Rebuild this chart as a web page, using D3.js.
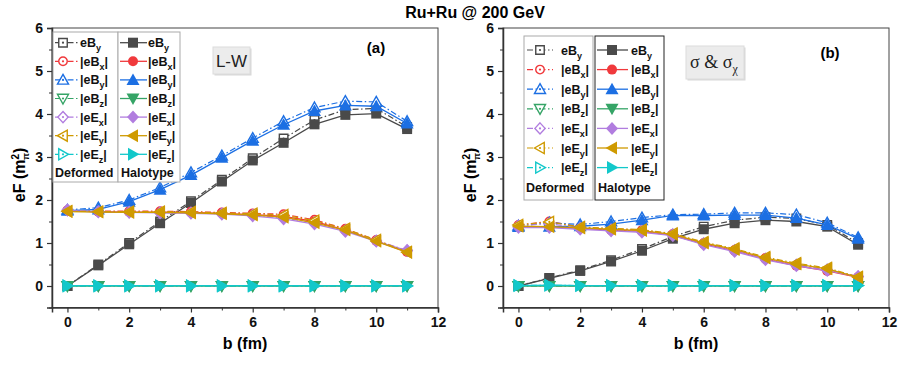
<!DOCTYPE html>
<html lang="en">
<head>
  <meta charset="UTF-8">
  <title>Ru+Ru @ 200 GeV</title>
  <script src="https://d3js.org/d3.v7.min.js"></script>
  <style>
    body { margin: 0; background: #fff; }
    svg { display: block; font-family: "Liberation Sans", Arial, sans-serif; }
    .tick text { font-weight: bold; font-size: 14px; fill: #111; }
    .legend text { font-weight: bold; font-size: 12.5px; fill: #111; }
  </style>
</head>
<body>
  <div id="chart"></div>
  <script>
    const width = 899, height = 365;

    // impact parameter b (fm)
    const bVals = [0, 1, 2, 3, 4, 5, 6, 7, 8, 9, 10, 11];

    // panel (a) : L-W
    const lwDefEBy   = [0, 0.5, 1.0, 1.5, 1.97, 2.47, 2.97, 3.43, 3.86, 4.1, 4.13, 3.7];
    const lwDefAbsBx = [1.76, 1.74, 1.74, 1.74, 1.73, 1.71, 1.69, 1.67, 1.54, 1.33, 1.07, 0.8];
    const lwDefAbsBy = [1.77, 1.82, 2.0, 2.29, 2.64, 3.03, 3.44, 3.83, 4.15, 4.3, 4.28, 3.83];
    const lwDefAbsBz = [0, 0, 0, 0, 0, 0, 0, 0, 0, 0, 0, 0];
    const lwDefAbsEx = [1.77, 1.73, 1.72, 1.71, 1.7, 1.68, 1.65, 1.58, 1.47, 1.29, 1.05, 0.83];
    const lwDefAbsEy = [1.74, 1.73, 1.73, 1.73, 1.72, 1.7, 1.68, 1.65, 1.52, 1.33, 1.07, 0.79];
    const lwDefAbsEz = [0, 0, 0, 0, 0, 0, 0, 0, 0, 0, 0, 0];
    const lwHalEBy   = [0, 0.48, 0.97, 1.46, 1.93, 2.43, 2.92, 3.33, 3.76, 3.98, 4.01, 3.65];
    const lwHalAbsBx = [1.75, 1.73, 1.72, 1.72, 1.71, 1.69, 1.66, 1.62, 1.5, 1.3, 1.05, 0.79];
    const lwHalAbsBy = [1.75, 1.78, 1.96, 2.24, 2.58, 2.98, 3.38, 3.75, 4.07, 4.2, 4.18, 3.78];
    const lwHalAbsBz = [0, 0, 0, 0, 0, 0, 0, 0, 0, 0, 0, 0];
    const lwHalAbsEx = [1.76, 1.72, 1.71, 1.7, 1.69, 1.67, 1.63, 1.56, 1.44, 1.27, 1.04, 0.82];
    const lwHalAbsEy = [1.73, 1.72, 1.71, 1.71, 1.7, 1.68, 1.65, 1.6, 1.47, 1.3, 1.04, 0.78];
    const lwHalAbsEz = [0.01, 0.01, 0.01, 0.01, 0.01, 0.01, 0.01, 0.01, 0.01, 0.01, 0.01, 0.01];

    // panel (b) : sigma & sigma_chi
    const sgDefEBy   = [0, 0.19, 0.37, 0.6, 0.86, 1.15, 1.38, 1.53, 1.6, 1.57, 1.42, 1.0];
    const sgDefAbsBx = [1.42, 1.5, 1.37, 1.33, 1.3, 1.21, 1.0, 0.84, 0.65, 0.49, 0.37, 0.21];
    const sgDefAbsBy = [1.4, 1.47, 1.43, 1.5, 1.59, 1.66, 1.67, 1.7, 1.7, 1.66, 1.47, 1.13];
    const sgDefAbsBz = [0, 0, 0, 0, 0, 0, 0, 0, 0, 0, 0, 0];
    const sgDefAbsEx = [1.4, 1.45, 1.35, 1.31, 1.28, 1.2, 0.99, 0.83, 0.63, 0.49, 0.38, 0.22];
    const sgDefAbsEy = [1.42, 1.49, 1.37, 1.34, 1.31, 1.22, 1.02, 0.87, 0.67, 0.53, 0.42, 0.21];
    const sgDefAbsEz = [0.01, 0.02, 0.01, 0.01, 0.01, 0.01, 0.01, 0.01, 0.01, 0.01, 0.01, 0.01];
    const sgHalEBy   = [0, 0.18, 0.35, 0.57, 0.82, 1.1, 1.32, 1.46, 1.53, 1.5, 1.38, 0.96];
    const sgHalAbsBx = [1.38, 1.37, 1.34, 1.3, 1.27, 1.18, 0.98, 0.82, 0.63, 0.47, 0.35, 0.2];
    const sgHalAbsBy = [1.37, 1.38, 1.39, 1.44, 1.53, 1.64, 1.64, 1.65, 1.65, 1.58, 1.42, 1.1];
    const sgHalAbsBz = [0, 0, 0, 0, 0, 0, 0, 0, 0, 0, 0, 0];
    const sgHalAbsEx = [1.36, 1.36, 1.32, 1.28, 1.25, 1.17, 0.96, 0.8, 0.61, 0.47, 0.36, 0.22];
    const sgHalAbsEy = [1.39, 1.38, 1.35, 1.32, 1.29, 1.2, 1.0, 0.85, 0.65, 0.51, 0.4, 0.2];
    const sgHalAbsEz = [0.01, 0.02, 0.01, 0.01, 0.01, 0.01, 0.01, 0.01, 0.01, 0.01, 0.01, 0.01];

    const xTicks = [0, 2, 4, 6, 8, 10, 12];
    const yTicks = [0, 1, 2, 3, 4, 5, 6];

    // legend entries: [base, subscript, absolute value bars]
    const seriesNames = [["eB", "y", false], ["eB", "x", true], ["eB", "y", true], ["eB", "z", true],
                         ["eE", "x", true], ["eE", "y", true], ["eE", "z", true]];
    const colors = ["#4a4a4a", "#f0393c", "#1c6fe3", "#35a466", "#b17ddf", "#cf9a00", "#12c8ca"];
    const shapes = ["square", "circle", "up", "down", "diamond", "left", "right"];

    const panels = [
      { left: 52, tag: "(a)", tagX: 376, tagY: 53,
        def: [lwDefEBy, lwDefAbsBx, lwDefAbsBy, lwDefAbsBz, lwDefAbsEx, lwDefAbsEy, lwDefAbsEz],
        hal: [lwHalEBy, lwHalAbsBx, lwHalAbsBy, lwHalAbsBz, lwHalAbsEx, lwHalAbsEy, lwHalAbsEz],
        legend: { x0: 53, x1: 118, x2: 180, top: 32, bottom: 182, row0: 42.7, step: 18.6,
                  dl: [55, 79], dm: 63, dt: 80, hl: [120, 147], hm: 133, ht: 148, halStroke: "#aaa", gap: 0 },
        note: { x: 213, y: 47, w: 37, h: 27 } },
      { left: 503, tag: "(b)", tagX: 830, tagY: 58,
        def: [sgDefEBy, sgDefAbsBx, sgDefAbsBy, sgDefAbsBz, sgDefAbsEx, sgDefAbsEy, sgDefAbsEz],
        hal: [sgHalEBy, sgHalAbsBx, sgHalAbsBy, sgHalAbsBz, sgHalAbsEx, sgHalAbsEy, sgHalAbsEz],
        legend: { x0: 524, x1: 593, x2: 664, top: 36, bottom: 200, row0: 50, step: 19.6,
                  dl: [527, 553], dm: 540, dt: 561, hl: [597, 628], hm: 612, ht: 631, halStroke: "#222", gap: 2 },
        note: { x: 686, y: 46, w: 58, h: 33 } }
    ];

    const plotTop = 28, plotBottom = 307.5, plotW = 386;

    const svg = d3.select("#chart").append("svg")
      .attr("width", width).attr("height", height);

    svg.append("text")
      .attr("x", 475).attr("y", 18)
      .attr("text-anchor", "middle")
      .style("font-weight", "bold").style("font-size", "16px")
      .text("Ru+Ru @ 200 GeV");

    function markerPath(shape, k) {
      const p = d3.path();
      if (shape === "square") { p.rect(-5 * k, -5 * k, 10 * k, 10 * k); }
      else if (shape === "circle") { p.arc(0, 0, 5 * k, 0, 2 * Math.PI); }
      else if (shape === "up") { p.moveTo(0, -6.5 * k); p.lineTo(6.5 * k, 5 * k); p.lineTo(-6.5 * k, 5 * k); p.closePath(); }
      else if (shape === "down") { p.moveTo(0, 6.5 * k); p.lineTo(6.5 * k, -5 * k); p.lineTo(-6.5 * k, -5 * k); p.closePath(); }
      else if (shape === "diamond") { p.moveTo(0, -6.5 * k); p.lineTo(6 * k, 0); p.lineTo(0, 6.5 * k); p.lineTo(-6 * k, 0); p.closePath(); }
      else if (shape === "left") { p.moveTo(-6.5 * k, 0); p.lineTo(5 * k, -6.5 * k); p.lineTo(5 * k, 6.5 * k); p.closePath(); }
      else { p.moveTo(6.5 * k, 0); p.lineTo(-5 * k, -6.5 * k); p.lineTo(-5 * k, 6.5 * k); p.closePath(); }
      return p.toString();
    }

    function drawMarker(g, x, y, i, open) {
      const m = g.append("path")
        .attr("transform", `translate(${x},${y})`)
        .attr("d", markerPath(shapes[i], open ? 0.85 : 1));
      if (open) {
        m.attr("fill", "#fff").attr("stroke", colors[i]).attr("stroke-width", 1.4);
        g.append("circle").attr("cx", x).attr("cy", y).attr("r", 1.1).attr("fill", colors[i]);
      } else {
        m.attr("fill", colors[i]);
      }
    }

    function legendLabel(g, x, y, i) {
      const [base, sub, abs] = seriesNames[i];
      const t = g.append("text").attr("x", x).attr("y", y + 4.5);
      t.append("tspan").text((abs ? "|" : "") + base);
      t.append("tspan").attr("dy", 4).style("font-size", "9px").text(sub);
      if (abs) t.append("tspan").attr("dy", -4).text("|");
    }

    panels.forEach(pn => {
      const x = d3.scaleLinear().domain([-0.5, 12]).range([pn.left, pn.left + plotW]);
      const y = d3.scaleLinear().domain([-0.5, 6]).range([plotBottom, plotTop]);
      const g = svg.append("g");

      // frame
      g.append("rect")
        .attr("x", x(-0.5)).attr("y", y(6))
        .attr("width", x(12) - x(-0.5)).attr("height", y(-0.5) - y(6))
        .attr("fill", "none").attr("stroke", "#444").attr("stroke-width", 1);

      // minor ticks
      g.append("g").attr("transform", `translate(0,${plotBottom})`)
        .call(d3.axisBottom(x).tickValues([1, 3, 5, 7, 9, 11]).tickSize(3).tickFormat(""))
        .call(a => a.select(".domain").remove())
        .selectAll("line").attr("stroke", "#333");
      g.append("g").attr("transform", `translate(${pn.left},0)`)
        .call(d3.axisLeft(y).tickValues([-0.5, 0.5, 1.5, 2.5, 3.5, 4.5, 5.5]).tickSize(3).tickFormat(""))
        .call(a => a.select(".domain").remove())
        .selectAll("line").attr("stroke", "#333");

      // major ticks
      g.append("g").attr("transform", `translate(0,${plotBottom})`)
        .call(d3.axisBottom(x).tickValues(xTicks).tickSize(5).tickPadding(5).tickFormat(d3.format("d")))
        .call(a => a.select(".domain").attr("stroke", "#333").attr("stroke-width", 1.5))
        .selectAll("line").attr("stroke", "#333").attr("stroke-width", 1.2);
      g.append("g").attr("transform", `translate(${pn.left},0)`)
        .call(d3.axisLeft(y).tickValues(yTicks).tickSize(5).tickPadding(4).tickFormat(d3.format("d")))
        .call(a => a.select(".domain").attr("stroke", "#333").attr("stroke-width", 1.5))
        .selectAll("line").attr("stroke", "#333").attr("stroke-width", 1.2);

      // axis titles
      g.append("text")
        .attr("x", pn.left + plotW / 2).attr("y", 349)
        .attr("text-anchor", "middle")
        .style("font-weight", "bold").style("font-size", "16px")
        .text("b (fm)");
      const yl = g.append("text")
        .attr("transform", `translate(${pn.left - 27},175) rotate(-90)`)
        .attr("text-anchor", "middle")
        .style("font-weight", "bold").style("font-size", "16px");
      yl.append("tspan").text("eF (m");
      yl.append("tspan").attr("dy", -6).style("font-size", "10px").text("2");
      yl.append("tspan").attr("dy", 10).attr("dx", -6).style("font-size", "9px").text("π");
      yl.append("tspan").attr("dy", -4).text(")");

      // data: deformed then halotype for each quantity
      const line = d3.line().x((d, j) => x(bVals[j])).y(d => y(d));
      const marks = g.append("g");
      seriesNames.forEach((s, i) => {
        marks.append("path").datum(pn.def[i])
          .attr("d", line).attr("fill", "none")
          .attr("stroke", colors[i]).attr("stroke-width", 1.2)
          .attr("stroke-dasharray", "6,2.5,1.5,2.5");
        pn.def[i].forEach((v, j) => drawMarker(marks, x(bVals[j]), y(v), i, true));
        marks.append("path").datum(pn.hal[i])
          .attr("d", line).attr("fill", "none")
          .attr("stroke", colors[i]).attr("stroke-width", 1.3);
        pn.hal[i].forEach((v, j) => drawMarker(marks, x(bVals[j]), y(v), i, false));
      });

      // legend
      const L = pn.legend;
      const lg = g.append("g").attr("class", "legend");
      lg.append("rect").attr("x", L.x0).attr("y", L.top)
        .attr("width", L.x1 - L.x0).attr("height", L.bottom - L.top)
        .attr("fill", "#fff").attr("stroke", "#aaa");
      lg.append("rect").attr("x", L.x1 + L.gap).attr("y", L.top)
        .attr("width", L.x2 - L.x1 - L.gap).attr("height", L.bottom - L.top)
        .attr("fill", "#fff").attr("stroke", L.halStroke);
      seriesNames.forEach((s, i) => {
        const ry = L.row0 + i * L.step;
        lg.append("line").attr("x1", L.dl[0]).attr("x2", L.dl[1]).attr("y1", ry).attr("y2", ry)
          .attr("stroke", colors[i]).attr("stroke-width", 1.2).attr("stroke-dasharray", "6,2.5,1.5,2.5");
        drawMarker(lg, L.dm, ry, i, true);
        legendLabel(lg, L.dt, ry, i);
        lg.append("line").attr("x1", L.hl[0]).attr("x2", L.hl[1]).attr("y1", ry).attr("y2", ry)
          .attr("stroke", colors[i]).attr("stroke-width", 1.3);
        drawMarker(lg, L.hm, ry, i, false);
        legendLabel(lg, L.ht, ry, i);
      });
      const ly = L.row0 + 7 * L.step + 4.5;
      lg.append("text").attr("x", L.x0 + 2).attr("y", ly).text("Deformed");
      lg.append("text").attr("x", L.x1 + L.gap + 3).attr("y", ly).text("Halotype");

      // panel tag
      g.append("text").attr("x", pn.tagX).attr("y", pn.tagY)
        .attr("text-anchor", "middle")
        .style("font-weight", "bold").style("font-size", "15px")
        .text(pn.tag);

      // model note box
      const n = pn.note;
      g.append("rect").attr("x", n.x + 1.5).attr("y", n.y + 1.5).attr("width", n.w).attr("height", n.h)
        .attr("fill", "#d8d8d8");
      g.append("rect").attr("x", n.x).attr("y", n.y).attr("width", n.w).attr("height", n.h)
        .attr("fill", "#ececec").attr("stroke", "#dcdcdc");
      if (pn.tag === "(a)") {
        g.append("text").attr("x", n.x + n.w / 2).attr("y", n.y + n.h / 2 + 6)
          .attr("text-anchor", "middle").style("font-size", "17px").style("fill", "#222")
          .text("L-W");
      } else {
        const t = g.append("text").attr("x", n.x + 4).attr("y", n.y + n.h / 2 + 5)
          .style("font-family", "'Liberation Serif', 'DejaVu Serif', serif")
          .style("font-size", "18px").style("fill", "#222");
        t.append("tspan").text("σ & σ");
        t.append("tspan").attr("dy", 5).style("font-size", "12px").text("χ");
      }
    });
  </script>
</body>
</html>
